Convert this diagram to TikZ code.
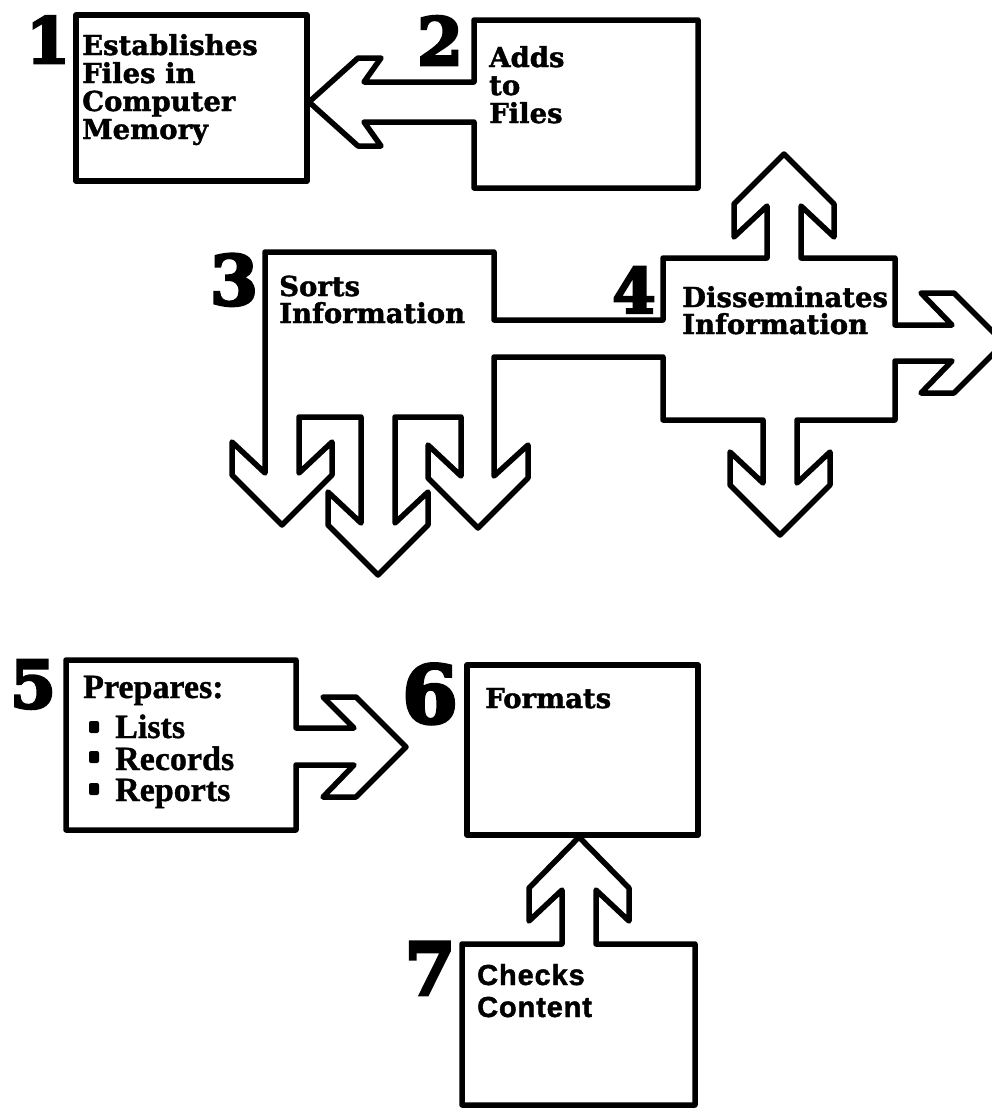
\documentclass[tikz,border=0pt]{standalone}
\usepackage{fontspec}
\newfontfamily\lblfontfam{DejaVu Serif Bold}[FakeBold=1.5]
\newfontfamily\numfontfam{DejaVu Serif Bold}[FakeBold=4]
\newfontfamily\timesfam{Liberation Serif Bold}[FakeBold=1]
\newfontfamily\sansfam{Liberation Sans Bold}[FakeBold=1.5,LetterSpace=3]
\begin{document}
\begin{tikzpicture}[x=1pt,y=-1pt,
  outline/.style={line width=5.5pt,line join=round},
  lbl/.style={anchor=base west,inner sep=0pt,font=\lblfontfam\fontsize{27.5}{27.5}\selectfont},
  lblt/.style={anchor=base west,inner sep=0pt,font=\timesfam\fontsize{34}{34}\selectfont},
  lbls/.style={anchor=base west,inner sep=0pt,font=\sansfam\fontsize{29}{29}\selectfont},
  num/.style={anchor=base,inner sep=0pt},
  bullet/.style={fill=black,rounded corners=2pt,minimum width=10pt,minimum height=12pt,inner sep=0pt}]
\useasboundingbox (0,0) rectangle (992,1111);

% Box 1
\draw[outline] (76,15) rectangle (307,181);
% Box 2 with arrow to box 1
\draw[outline] (474,82) -- (474,20) -- (698,20) -- (698,188) -- (474,188) -- (474,122)
  -- (364,122) -- (381,146) -- (358,146) -- (309,102) -- (358,58) -- (381,58) -- (364,82) -- cycle;
% Boxes 3 and 4 with arrows
\draw[outline] (265,252) -- (494,252) -- (494,320) -- (663,320) -- (663,258) -- (767,258)
  -- (767,206) -- (734,237) -- (734,204) -- (784,154) -- (834,204) -- (834,237) -- (801,206) -- (801,258)
  -- (895,258) -- (895,325)
  -- (952,325) -- (921,293) -- (954,293) -- (1004,343) -- (954,393) -- (921,393) -- (952,361)
  -- (895,361) -- (895,420) -- (797,420)
  -- (797,483) -- (830,452) -- (830,485) -- (780,535) -- (730,485) -- (730,452) -- (763,483)
  -- (763,420) -- (663,420) -- (663,357) -- (494,357)
  -- (494,476) -- (528,445) -- (528,478) -- (478,528) -- (428,478) -- (428,445) -- (461,476)
  -- (461,417) -- (395,417)
  -- (395,523) -- (428,492) -- (428,525) -- (378,575) -- (328,525) -- (328,492) -- (361,523)
  -- (361,417) -- (299,417)
  -- (299,473) -- (332,442) -- (332,475) -- (282,525) -- (232,475) -- (232,442) -- (265,473) -- cycle;
% Box 5 with arrow to box 6
\draw[outline] (296,728) -- (296,660) -- (66,660) -- (66,830) -- (296,830) -- (296,765)
  -- (354,765) -- (323,797) -- (356,797) -- (406,747) -- (356,697) -- (323,697) -- (354,728) -- cycle;
% Box 6
\draw[outline] (467,665) rectangle (698,835);
% Box 7 with arrow to box 6
\draw[outline] (562,944) -- (562,890) -- (529,921) -- (529,888) -- (579,837) -- (629,888) -- (629,921)
  -- (596,890) -- (596,944) -- (695,944) -- (695,1105) -- (462,1105) -- (462,944) -- cycle;

% Step numbers
\node[num,font=\numfontfam\fontsize{63}{63}\selectfont] (n1) at (48,63) {1};
\node[num,font=\numfontfam\fontsize{66}{66}\selectfont] (n2) at (440,65) {2};
\node[num,font=\numfontfam\fontsize{69}{69}\selectfont] (n3) at (234,305) {3};
\node[num,font=\numfontfam\fontsize{62}{62}\selectfont] (n4) at (634,313) {4};
\node[num,font=\numfontfam\fontsize{66}{66}\selectfont] (n5) at (33,708) {5};
\node[num,font=\numfontfam\fontsize{80}{80}\selectfont] (n6) at (430,723) {6};
\node[num,font=\numfontfam\fontsize{73}{73}\selectfont] (n7) at (430,995) {7};

% Box texts
\node[lbl] (t1a) at (82,55) {Establishes};
\node[lbl] (t1b) at (82,83) {Files in};
\node[lbl] (t1c) at (82,111) {Computer};
\node[lbl] (t1d) at (82,139) {Memory};
\node[lbl] (t2a) at (489,67) {Adds};
\node[lbl] (t2b) at (489,95) {to};
\node[lbl] (t2c) at (489,123) {Files};
\node[lbl] (t3a) at (279,296) {Sorts};
\node[lbl] (t3b) at (279,323) {Information};
\node[lbl] (t4a) at (682,307) {Disseminates};
\node[lbl] (t4b) at (682,334) {Information};
\node[lblt] (t5a) at (83,698) {Prepares:};
\node[bullet] (b1) at (94,727) {};
\node[lblt] (t5b) at (115,738) {Lists};
\node[bullet] (b2) at (94,757) {};
\node[lblt] (t5c) at (115,770) {Records};
\node[bullet] (b3) at (94,789) {};
\node[lblt] (t5d) at (115,801) {Reports};
\node[lbl] (t6) at (485,708) {Formats};
\node[lbls] (t7a) at (477,985) {Checks};
\node[lbls] (t7b) at (477,1017) {Content};
\end{tikzpicture}
\end{document}
